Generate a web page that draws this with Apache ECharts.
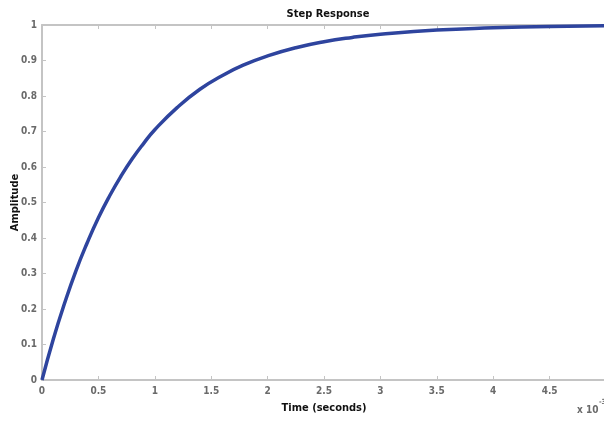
<!DOCTYPE html>
<html><head><meta charset="utf-8">
<script src="https://cdn.jsdelivr.net/npm/echarts@6/dist/echarts.min.js"></script>
<style>html,body{margin:0;padding:0;background:#fff}#c{width:604px;height:421px}</style>
</head><body><div id="c"></div>
<script>
const times = [0,0.1,0.2,0.3,0.4,0.5,0.6,0.7,0.8,0.9,1.0,1.2,1.4,1.6,1.8,2.0,2.25,2.5,2.75,3.0,3.5,4.0,4.5,5.0];
const amplitude = [0,0.115,0.216,0.307,0.386,0.457,0.519,0.574,0.623,0.666,0.705,0.768,0.819,0.858,0.889,0.913,0.936,0.953,0.965,0.974,0.986,0.992,0.996,0.998];
const xTicks = [0,0.5,1,1.5,2,2.5,3,3.5,4,4.5,5];
const yTicks = [0,0.1,0.2,0.3,0.4,0.5,0.6,0.7,0.8,0.9,1];
const titleText = 'Step Response';
const xName = 'Time (seconds)';
const yName = 'Amplitude';

const font = '"DejaVu Sans Condensed","Liberation Sans Narrow","Liberation Sans",Arial,sans-serif';
const axisGray = '#c4c4c4';
const labelStyle = {color:'#6a6a6a', fontFamily:font, fontWeight:'bold', fontSize:10};
const chart = echarts.init(document.getElementById('c'), null, {renderer:'canvas'});
chart.setOption({
  animation:false,
  backgroundColor:'#fff',
  title:{text:titleText, left:323, top:4, textAlign:'center',
    textStyle:{fontFamily:font, fontWeight:'bold', fontSize:11, color:'#111'}},
  grid:{left:42, right:-2, top:25, bottom:41, containLabel:false, outerBoundsMode:'none'},
  xAxis:[{
    type:'value', min:xTicks[0], max:xTicks[xTicks.length-1], interval:0.5,
    name:xName, nameLocation:'middle', nameGap:23, nameMoveOverlap:false,
    nameTextStyle:{fontFamily:font, fontWeight:'bold', fontSize:11, color:'#111'},
    axisLine:{show:true, lineStyle:{color:axisGray, width:2}},
    axisTick:{show:true, inside:true, length:4, lineStyle:{color:axisGray}},
    axisLabel:Object.assign({margin:6, showMaxLabel:false}, labelStyle),
    splitLine:{show:false}
  },{
    type:'value', position:'top', min:xTicks[0], max:xTicks[xTicks.length-1], interval:0.5,
    axisLine:{show:true, lineStyle:{color:axisGray, width:2}},
    axisTick:{show:true, inside:true, length:4, lineStyle:{color:axisGray}},
    axisLabel:{show:false}, splitLine:{show:false}
  }],
  yAxis:{
    type:'value', min:yTicks[0], max:yTicks[yTicks.length-1], interval:0.1,
    name:yName, nameLocation:'middle', nameGap:21, nameRotate:90, nameMoveOverlap:false,
    nameTextStyle:{fontFamily:font, fontWeight:'bold', fontSize:11, color:'#111'},
    axisLine:{show:true, lineStyle:{color:axisGray, width:2}},
    axisTick:{show:true, inside:true, length:4, lineStyle:{color:axisGray}},
    axisLabel:Object.assign({margin:5, formatter:v=>String(Math.round(v*10)/10)}, labelStyle),
    splitLine:{show:false}
  },
  graphic:[{
    type:'text', left:577, top:405,
    style:{text:'x 10', fill:'#6a6a6a', font:'bold 10px '+font}
  },{
    type:'text', left:599, top:399,
    style:{text:'-3', fill:'#6a6a6a', font:'bold 7px '+font}
  }],
  series:[{
    type:'line', xAxisIndex:0, smooth:true, showSymbol:false,
    data:times.map((t,i)=>[t, amplitude[i]]),
    lineStyle:{color:'#2e449e', width:3.5}
  }]
});
</script></body></html>
